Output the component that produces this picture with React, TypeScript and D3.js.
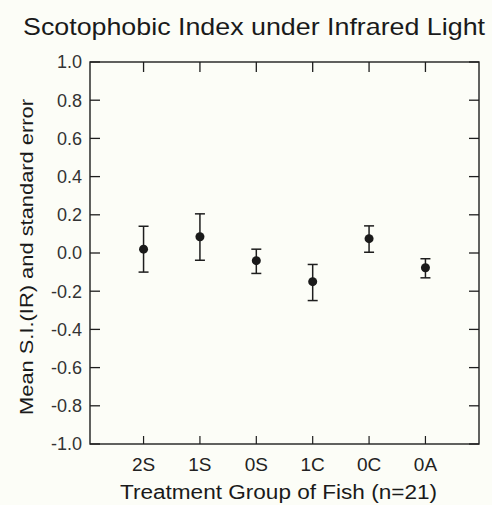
import React, { useEffect, useRef } from 'react';
import * as d3 from 'd3';

// datos
const groups = ['2S', '1S', '0S', '1C', '0C', '0A'];
const means = [0.02, 0.085, -0.04, -0.15, 0.075, -0.077];
const upper = [0.14, 0.205, 0.02, -0.06, 0.142, -0.03];
const lower = [-0.1, -0.038, -0.107, -0.249, 0.004, -0.13];
const yTicks = [1.0, 0.8, 0.6, 0.4, 0.2, 0.0, -0.2, -0.4, -0.6, -0.8, -1.0];

const W = 492;
const H = 505;
const margin = { top: 62, right: 13, bottom: 61, left: 90 };

export default function App() {
  const svgRef = useRef<SVGSVGElement>(null);

  useEffect(() => {
    const svg = d3.select(svgRef.current);
    svg.selectAll('*').remove();

    const font = 'Arial, "Liberation Sans", sans-serif';
    const ink = '#1e1e1e';
    const x0 = margin.left;
    const x1 = W - margin.right;
    const y0 = margin.top;
    const y1 = H - margin.bottom;

    // Escalas
    const x = d3.scalePoint<string>()
      .domain(groups)
      .range([x0, x1])
      .padding(0.95);

    const y = d3.scaleLinear()
      .domain([-1, 1])
      .range([y1, y0]);

    svg.append('rect')
      .attr('width', W)
      .attr('height', H)
      .attr('fill', '#fcfdf7');

    // Marco
    svg.append('rect')
      .attr('x', x0)
      .attr('y', y0)
      .attr('width', x1 - x0)
      .attr('height', y1 - y0)
      .attr('fill', 'none')
      .attr('stroke', ink)
      .attr('stroke-width', 1.4);

    // Ticks del eje y (izquierda y derecha, hacia adentro)
    const tick = 10;
    svg.append('g').selectAll('line')
      .data(yTicks)
      .enter()
      .append('line')
      .attr('x1', x0)
      .attr('x2', x0 + tick)
      .attr('y1', d => y(d))
      .attr('y2', d => y(d))
      .attr('stroke', ink)
      .attr('stroke-width', 1.3);

    svg.append('g').selectAll('line')
      .data(yTicks)
      .enter()
      .append('line')
      .attr('x1', x1)
      .attr('x2', x1 - tick)
      .attr('y1', d => y(d))
      .attr('y2', d => y(d))
      .attr('stroke', ink)
      .attr('stroke-width', 1.3);

    // Ticks del eje x (abajo y arriba)
    svg.append('g').selectAll('line')
      .data(groups)
      .enter()
      .append('line')
      .attr('x1', d => x(d)!)
      .attr('x2', d => x(d)!)
      .attr('y1', y1)
      .attr('y2', y1 - 8)
      .attr('stroke', ink)
      .attr('stroke-width', 1.2);

    svg.append('g').selectAll('line')
      .data(groups)
      .enter()
      .append('line')
      .attr('x1', d => x(d)!)
      .attr('x2', d => x(d)!)
      .attr('y1', y0)
      .attr('y2', y0 + tick)
      .attr('stroke', ink)
      .attr('stroke-width', 1.3);

    // Etiquetas de los ticks (con guion normal, como en el original)
    svg.append('g').selectAll('text')
      .data(yTicks)
      .enter()
      .append('text')
      .text(d => d3.format('.1f')(d).replace('\u2212', '-'))
      .attr('x', x0 - 8)
      .attr('y', d => y(d))
      .attr('dy', '0.36em')
      .attr('text-anchor', 'end')
      .attr('font-family', font)
      .attr('font-size', 18)
      .attr('fill', '#333');

    svg.append('g').selectAll('text')
      .data(groups)
      .enter()
      .append('text')
      .text(d => d)
      .attr('x', d => x(d)!)
      .attr('y', y1 + 27)
      .attr('text-anchor', 'middle')
      .attr('font-family', font)
      .attr('font-size', 19)
      .attr('fill', '#222');

    // Barras de error
    const cap = 5;
    const idx = d3.range(groups.length);
    const bars = svg.append('g');
    bars.selectAll('line.v')
      .data(idx)
      .enter()
      .append('line')
      .attr('x1', i => x(groups[i])!)
      .attr('x2', i => x(groups[i])!)
      .attr('y1', i => y(upper[i]))
      .attr('y2', i => y(lower[i]))
      .attr('stroke', ink)
      .attr('stroke-width', 1.5);
    bars.selectAll('line.top')
      .data(idx)
      .enter()
      .append('line')
      .attr('x1', i => x(groups[i])! - cap)
      .attr('x2', i => x(groups[i])! + cap)
      .attr('y1', i => y(upper[i]))
      .attr('y2', i => y(upper[i]))
      .attr('stroke', ink)
      .attr('stroke-width', 1.5);
    bars.selectAll('line.bot')
      .data(idx)
      .enter()
      .append('line')
      .attr('x1', i => x(groups[i])! - cap)
      .attr('x2', i => x(groups[i])! + cap)
      .attr('y1', i => y(lower[i]))
      .attr('y2', i => y(lower[i]))
      .attr('stroke', ink)
      .attr('stroke-width', 1.5);

    // Puntos
    svg.append('g').selectAll('circle')
      .data(idx)
      .enter()
      .append('circle')
      .attr('cx', i => x(groups[i])!)
      .attr('cy', i => y(means[i]))
      .attr('r', 4.5)
      .attr('fill', '#1a1a1a');

    // Títulos
    svg.append('text')
      .text('Scotophobic Index under Infrared Light')
      .attr('x', 23)
      .attr('y', 35)
      .attr('textLength', 462)
      .attr('lengthAdjust', 'spacingAndGlyphs')
      .attr('font-family', font)
      .attr('font-size', 24)
      .attr('fill', '#1a1a1a');

    svg.append('text')
      .text('Treatment Group of Fish (n=21)')
      .attr('x', 120)
      .attr('y', 499)
      .attr('textLength', 317)
      .attr('lengthAdjust', 'spacingAndGlyphs')
      .attr('font-family', font)
      .attr('font-size', 20)
      .attr('fill', '#1a1a1a');

    svg.append('text')
      .text('Mean S.I.(IR) and standard error')
      .attr('transform', 'translate(33, 415) rotate(-90)')
      .attr('textLength', 316)
      .attr('lengthAdjust', 'spacingAndGlyphs')
      .attr('font-family', font)
      .attr('font-size', 19)
      .attr('fill', '#1a1a1a');
  }, []);

  return (
    <svg
      ref={svgRef}
      width={W}
      height={H}
      style={{ position: 'absolute', left: 0, top: 0 }}
    ></svg>
  );
}
